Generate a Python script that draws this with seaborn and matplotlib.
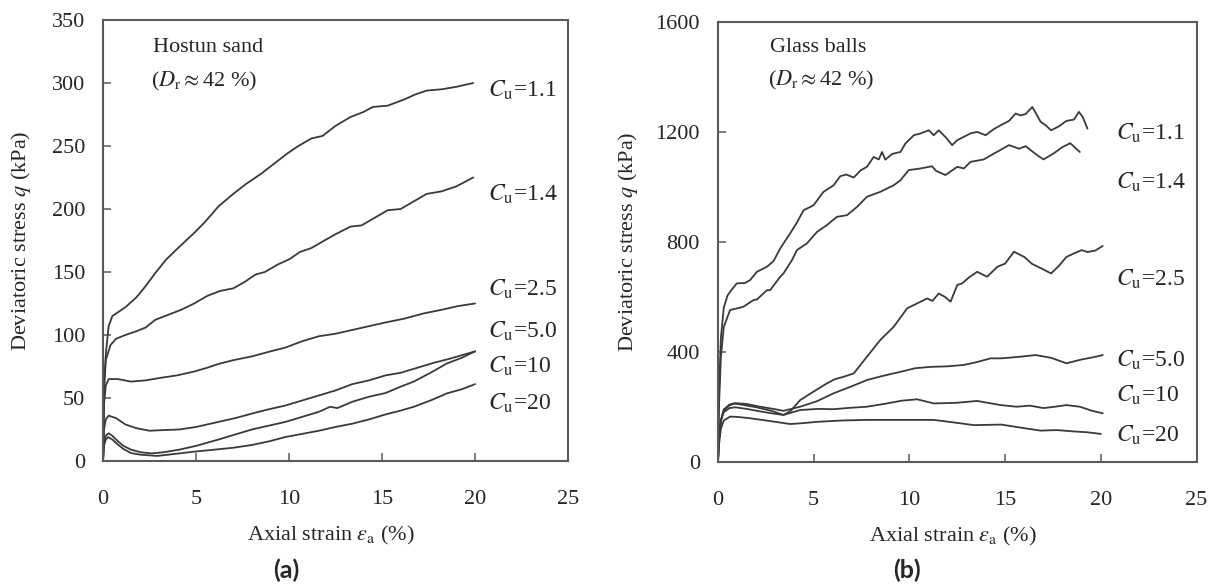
import pandas as pd
import matplotlib
matplotlib.use("Agg")
import matplotlib.pyplot as plt
import seaborn as sns

# ---- (a) Hostun sand, Dr ~ 42 % ----
sand_labels = ["1.1", "1.4", "2.5", "5.0", "10", "20"]
sand_label_y = [294, 212, 136, 103, 75, 46]

sand_strain_11 = [0, 0.05, 0.15, 0.3, 0.5, 0.8, 1.2, 1.8, 2.3, 2.8, 3.4, 4.1, 4.9, 5.5, 6.2, 7.0, 7.7,
                  8.5, 9.2, 9.9, 10.5, 11.2, 11.8, 12.5, 13.3, 14.0, 14.5, 15.3, 16.2, 16.8, 17.4, 18.2,
                  19.0, 19.9]
sand_q_11 = [0, 60, 85, 107, 115, 118, 122, 130, 139, 149, 160, 170, 181, 190, 202, 212, 220,
             228, 236, 244, 250, 256, 258, 266, 273, 277, 281, 282, 287, 291, 294, 295, 297, 300]

sand_strain_14 = [0, 0.05, 0.15, 0.4, 0.7, 1.2, 1.8, 2.3, 2.8, 3.5, 4.2, 4.9, 5.6, 6.3, 7.0, 7.6, 8.2,
                  8.7, 9.4, 10.0, 10.6, 11.2, 11.9, 12.5, 13.3, 13.9, 14.6, 15.3, 16.0, 16.7, 17.4,
                  18.2, 19.0, 19.9]
sand_q_14 = [0, 55, 80, 92, 97, 100, 103, 106, 112, 116, 120, 125, 131, 135, 137, 142, 148,
             150, 156, 160, 166, 169, 175, 180, 186, 187, 193, 199, 200, 206, 212, 214, 218, 225]

sand_strain_25 = [0, 0.05, 0.15, 0.3, 0.8, 1.5, 2.3, 3.1, 4.0, 4.9, 5.6, 6.2, 7.0, 8.0, 9.0, 9.8, 10.7,
                  11.6, 12.5, 13.4, 14.3, 15.2, 16.2, 17.2, 18.2, 19.1, 20.0]
sand_q_25 = [0, 45, 60, 65, 65, 63, 64, 66, 68, 71, 74, 77, 80, 83, 87, 90, 95,
             99, 101, 104, 107, 110, 113, 117, 120, 123, 125]

sand_strain_50 = [0, 0.05, 0.15, 0.3, 0.7, 1.2, 1.8, 2.5, 3.2, 4.1, 5.0, 6.2, 7.1, 8.0, 8.9, 9.8, 10.7,
                  11.6, 12.5, 13.4, 14.3, 15.2, 16.0, 16.9, 17.8, 18.6, 19.3, 20.0]
sand_q_50 = [0, 25, 33, 36, 34, 29, 26, 24, 24.5, 25, 27, 31, 34, 37.6, 41, 44, 48,
             52, 56, 61, 64, 68, 70, 74, 78, 81, 84, 87]

sand_strain_10 = [0, 0.05, 0.15, 0.3, 0.5, 0.8, 1.1, 1.5, 2.0, 2.6, 3.3, 4.1, 5.0, 6.2, 7.1, 8.0, 8.9,
                  9.8, 10.7, 11.6, 12.2, 12.6, 13.4, 14.3, 15.2, 16.0, 16.7, 17.6, 18.5, 19.3, 20.0]
sand_q_10 = [0, 15, 20, 22, 20, 15.6, 12, 9, 7, 6, 7, 9, 12, 17, 21, 25, 28,
             31, 35, 39, 43, 42, 47, 51, 54, 59, 63, 70, 77.5, 82, 87]

sand_strain_20 = [0, 0.05, 0.15, 0.27, 0.5, 0.8, 1.1, 1.5, 2.0, 2.9, 3.8, 4.9, 6.0, 7.0, 8.0, 8.9, 9.8,
                  10.7, 11.6, 12.5, 13.4, 14.3, 15.2, 16.0, 16.7, 17.6, 18.5, 19.3, 20.0]
sand_q_20 = [0, 12, 17, 19, 17, 13, 9.5, 6.3, 5, 4, 5.5, 7.4, 9, 10.5, 12.7, 15.5, 19,
             21.5, 24, 27, 29.6, 33, 37, 40, 43, 48, 53.7, 57, 61]

# ---- (b) Glass balls, Dr ~ 42 % ----
glass_labels = ["1.1", "1.4", "2.5", "5.0", "10", "20"]
glass_label_y = [1194, 1018, 663, 370, 243, 97]

glass_strain_11 = [0, 0.05, 0.15, 0.3, 0.5, 0.63, 0.98, 1.4, 1.68, 2.03, 2.55, 2.9, 3.25, 3.77, 4.12,
                   4.47, 4.99, 5.51, 6.04, 6.39, 6.7, 7.09, 7.45, 7.78, 8.13, 8.4, 8.57, 8.74, 9.1,
                   9.53, 9.79, 10.23, 10.6, 11.01, 11.27, 11.53, 11.9, 12.23, 12.5, 12.84, 13.2,
                   13.54, 13.98, 14.4, 14.76, 15.2, 15.55, 15.8, 16.07, 16.42, 16.86, 17.1, 17.4,
                   17.8, 18.2, 18.6, 18.85, 19.05, 19.3]
glass_q_11 = [0, 250, 450, 560, 605, 618, 649, 650, 661, 691, 709, 730, 776, 831, 870,
              915, 933, 982, 1006, 1039, 1045, 1034, 1060, 1073, 1109, 1100, 1127, 1099, 1120,
              1127, 1158, 1188, 1195, 1206, 1188, 1206, 1180, 1152, 1170, 1182, 1195,
              1200, 1188, 1210, 1224, 1240, 1267, 1260, 1265, 1291, 1236, 1225, 1206,
              1220, 1240, 1245, 1273, 1255, 1212]

glass_strain_14 = [0, 0.05, 0.15, 0.3, 0.63, 1.0, 1.33, 1.85, 2.03, 2.55, 2.72, 3.25, 3.42, 3.86,
                   4.12, 4.64, 5.17, 5.69, 6.21, 6.74, 7.26, 7.78, 8.48, 9.18, 9.53, 9.96, 10.58,
                   11.18, 11.4, 11.88, 12.5, 12.84, 13.19, 13.89, 14.41, 15.2, 15.73, 16.07, 16.68,
                   17.0, 17.5, 18.0, 18.4, 18.9]
glass_q_14 = [0, 200, 380, 490, 552, 558, 564, 588, 590, 624, 624, 673, 685, 733,
              770, 794, 836, 861, 891, 897, 927, 964, 982, 1006, 1024, 1061, 1067,
              1075, 1058, 1043, 1073, 1067, 1091, 1100, 1121, 1152, 1139, 1148, 1115,
              1100, 1120, 1145, 1159, 1127]

glass_strain_25 = [0, 0.05, 0.15, 0.3, 0.6, 0.9, 1.5, 2.2, 2.9, 3.42, 3.8, 4.29, 4.99, 5.69, 6.1,
                   6.56, 7.09, 7.78, 8.48, 9.18, 9.88, 10.4, 10.93, 11.2, 11.53, 11.85, 12.15, 12.5,
                   12.76, 13.1, 13.54, 14.06, 14.59, 15.0, 15.46, 16.0, 16.4, 16.9, 17.4, 17.8,
                   18.2, 18.6, 19.0, 19.3, 19.7, 20.1]
glass_q_25 = [0, 90, 150, 180, 195, 198, 192, 183, 175, 170, 185, 224, 255, 285, 300,
              309, 321, 382, 443, 491, 558, 576, 594, 585, 612, 600, 582, 643,
              649, 670, 691, 673, 709, 721, 764, 745, 720, 703, 685, 712,
              745, 758, 770, 763, 768, 785]

glass_strain_50 = [0, 0.05, 0.15, 0.3, 0.6, 0.9, 1.5, 2.2, 2.9, 3.42, 4.29, 5.17, 6.04, 6.9, 7.78,
                   8.6, 9.53, 10.3, 11.1, 12.0, 12.84, 13.5, 14.24, 14.8, 15.8, 16.6, 17.4, 18.2,
                   19.0, 19.6, 20.1]
glass_q_50 = [0, 80, 150, 185, 205, 213, 210, 200, 192, 185, 200, 220, 249, 272, 297,
              312, 327, 340, 345, 347, 352, 362, 376, 376, 382, 388, 378, 358,
              372, 380, 388]

glass_strain_10 = [0, 0.05, 0.15, 0.3, 0.6, 0.8, 1.2, 2.0, 2.8, 3.42, 4.29, 5.2, 6.04, 6.9, 7.78,
                   8.83, 9.6, 10.4, 11.27, 12.4, 13.54, 14.76, 15.6, 16.3, 17.0, 17.6, 18.2, 18.9,
                   19.5, 20.1]
glass_q_10 = [0, 80, 150, 190, 208, 212, 208, 198, 185, 170, 188, 192, 191, 196, 200,
              212, 222, 227, 212, 214, 221, 206, 200, 204, 195, 200, 206, 200,
              186, 176]

glass_strain_20 = [0, 0.05, 0.15, 0.3, 0.63, 1.0, 1.68, 2.7, 3.77, 4.4, 5.17, 6.5, 7.78, 9.5, 11.27,
                   12.3, 13.37, 14.8, 15.8, 16.86, 17.7, 18.6, 19.3, 20.0]
glass_q_20 = [0, 60, 120, 150, 164, 163, 158, 148, 137, 140, 145, 150, 152, 152, 152,
              143, 133, 135, 124, 113, 115, 110, 107, 101]

sand_curves = [(sand_strain_11, sand_q_11), (sand_strain_14, sand_q_14),
               (sand_strain_25, sand_q_25), (sand_strain_50, sand_q_50),
               (sand_strain_10, sand_q_10), (sand_strain_20, sand_q_20)]
glass_curves = [(glass_strain_11, glass_q_11), (glass_strain_14, glass_q_14),
                (glass_strain_25, glass_q_25), (glass_strain_50, glass_q_50),
                (glass_strain_10, glass_q_10), (glass_strain_20, glass_q_20)]

sns.set_style("ticks")
plt.rcParams["font.family"] = ["Liberation Serif", "DejaVu Serif"]
plt.rcParams["mathtext.fontset"] = "stix"

LINE = "#3a3a3a"
SPINE = "#5a5a5a"


def draw_panel(ax, curves, labels, label_y, label_x, ymax, ystep, name, name_y, dr_y, ylab_x):
    for (strain, q), lab, ly in zip(curves, labels, label_y):
        df = pd.DataFrame({"strain": strain, "q": q})
        sns.lineplot(data=df, x="strain", y="q", ax=ax, color=LINE, lw=1.3,
                     sort=False, estimator=None)
        ax.text(label_x, ly, r"$C_{\rm u}$=" + lab, fontsize=17, ha="left", va="center")

    ax.set_xlim(0, 25)
    ax.set_ylim(0, ymax)
    ax.set_xticks(range(0, 26, 5))
    ax.set_yticks(range(0, ymax + 1, ystep))
    for s in ax.spines.values():
        s.set_visible(True)
        s.set_color(SPINE)
        s.set_linewidth(1.5)
    ax.tick_params(axis="both", direction="in", length=6, width=1.1, color=SPINE,
                   labelsize=16, top=False, right=False)
    ax.tick_params(axis="x", pad=21)
    ax.tick_params(axis="y", pad=13)

    ax.text(2.7, name_y, name, fontsize=16, ha="left", va="center")
    ax.text(2.6, dr_y, r"($D_{\rm r}\approx$42 %)", fontsize=16, ha="left", va="center")

    ax.set_xlabel(r"Axial strain $\varepsilon_{\rm a}$ (%)", fontsize=16)
    ax.set_ylabel(r"Deviatoric stress $q$ (kPa)", fontsize=16)
    ax.xaxis.label.set_va("center")
    ax.yaxis.label.set_va("center")
    ax.xaxis.set_label_coords(0.49, -0.170)
    ax.yaxis.set_label_coords(ylab_x, 0.5)


fig = plt.figure(figsize=(12.18, 5.85), dpi=100)
ax1 = fig.add_axes([0.0846, 0.2120, 0.3818, 0.7538])
ax2 = fig.add_axes([0.5895, 0.2108, 0.3929, 0.7516])

draw_panel(ax1, sand_curves, sand_labels, sand_label_y, 20.7, 350, 50,
           "Hostun sand", 328, 301, -0.176)
draw_panel(ax2, glass_curves, glass_labels, glass_label_y, 20.8, 1600, 400,
           "Glass balls", 1509, 1388, -0.188)

fig.text(286 / 1218, 1 - 570 / 585, "(a)", fontsize=18, fontweight="bold",
         family=["Lato", "DejaVu Sans"], ha="center", va="center")
fig.text(907 / 1218, 1 - 570 / 585, "(b)", fontsize=18, fontweight="bold",
         family=["Lato", "DejaVu Sans"], ha="center", va="center")

fig.savefig("out.png", dpi=100)
